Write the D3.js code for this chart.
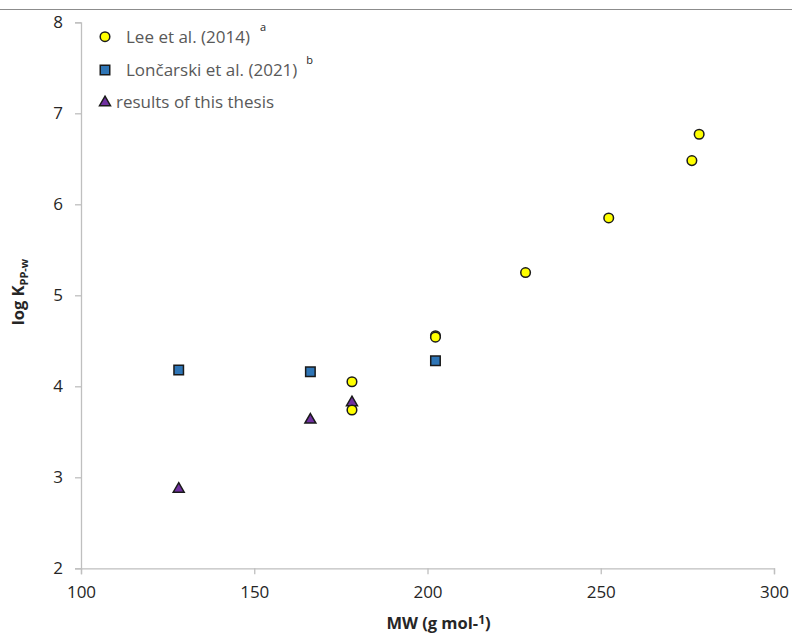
<!DOCTYPE html>
<html>
<head>
<meta charset="utf-8">
<script src="https://cdn.jsdelivr.net/npm/d3@7"></script>
<style>
  html, body { margin: 0; padding: 0; background: #fff; }
  svg { display: block; }
  text { font-family: "Open Sans", "Liberation Sans", sans-serif; }
</style>
</head>
<body>
<svg id="chart" width="792" height="637"></svg>
<script>
// Lee et al. (2014): molecular weight and log K(PP-w)
const leeMW = [178.2, 178.2, 202.3, 202.3, 228.3, 252.3, 276.3, 278.4];
const leeLogK = [4.05, 3.74, 4.555, 4.54, 5.25, 5.85, 6.48, 6.77];

// Lončarski et al. (2021)
const loncarskiMW = [128.2, 166.2, 202.3];
const loncarskiLogK = [4.18, 4.16, 4.28];

// Results of this thesis
const thesisMW = [128.2, 166.2, 178.2];
const thesisLogK = [2.88, 3.64, 3.83];

const xTicks = [100, 150, 200, 250, 300];
const yTicks = [2, 3, 4, 5, 6, 7, 8];

const svg = d3.select("#chart");
const x = d3.scaleLinear().domain([100, 300]).range([81, 774]);
const y = d3.scaleLinear().domain([2, 8]).range([568.3, 22.3]);

const axisColor = "#bfbfbf";
const tickText = "#262626";

// thin rule across the top
svg.append("line").attr("x1", 0).attr("x2", 792).attr("y1", 9.5).attr("y2", 9.5)
  .attr("stroke", "#8c8c8c").attr("stroke-width", 1.2);

// x axis
const gx = svg.append("g").attr("transform", `translate(0,${y(2)})`)
  .call(d3.axisBottom(x).tickValues(xTicks).tickSize(6).tickPadding(12).tickFormat(d3.format("d")));
// y axis
const gy = svg.append("g").attr("transform", `translate(${x(100)},0)`)
  .call(d3.axisLeft(y).tickValues(yTicks).tickSize(6).tickPadding(12).tickFormat(d3.format("d")));

[gx, gy].forEach(g => {
  g.select(".domain").attr("stroke", axisColor).attr("stroke-width", 1.3);
  g.selectAll(".tick line").attr("stroke", axisColor).attr("stroke-width", 1.3);
  g.selectAll(".tick text").attr("fill", tickText).attr("font-size", 17)
    .style("font-family", "'Open Sans', sans-serif");
});

// axis titles
const xTitle = svg.append("text").attr("x", x(200) + 11).attr("y", 629)
  .attr("text-anchor", "middle").attr("font-size", 16.5).attr("font-weight", "bold").attr("fill", "#262626");
xTitle.append("tspan").text("MW (g mol-");
xTitle.append("tspan").text("1").attr("font-size", 12).attr("dy", -5);
xTitle.append("tspan").text(")").attr("dy", 5);

const yTitle = svg.append("text").attr("transform", `translate(24,292) rotate(-90)`)
  .attr("text-anchor", "middle").attr("font-size", 16.5).attr("font-weight", "bold").attr("fill", "#262626");
yTitle.append("tspan").text("log K");
yTitle.append("tspan").text("PP-w").attr("font-size", 11).attr("dy", 4);

// markers
const symCircle = d3.symbol().type(d3.symbolCircle).size(Math.PI * 4.8 * 4.8);
const symSquare = d3.symbol().type(d3.symbolSquare).size(9.5 * 9.5);
const symTriangle = d3.symbol().type(d3.symbolTriangle).size(52);

const series = [
  { mw: loncarskiMW, k: loncarskiLogK, sym: symSquare, fill: "#2e75b6", dy: 0 },
  { mw: thesisMW, k: thesisLogK, sym: symTriangle, fill: "#7030a0", dy: 0.8 },
  { mw: leeMW, k: leeLogK, sym: symCircle, fill: "#ffff00", dy: 0 }
];

series.forEach(s => {
  svg.append("g").selectAll("path")
    .data(s.mw.map((m, i) => [m, s.k[i]]))
    .join("path")
    .attr("d", s.sym)
    .attr("transform", d => `translate(${x(d[0])},${y(d[1]) + s.dy})`)
    .attr("fill", s.fill)
    .attr("stroke", "#1a1a1a")
    .attr("stroke-width", 1.5);
});

// legend
const legend = svg.append("g");
const legendItems = [
  { sym: symCircle, fill: "#ffff00", label: "Lee et al. (2014)", sup: "a", cy: 36.7, tx: 126, supDx: 10 },
  { sym: symSquare, fill: "#2e75b6", label: "Lončarski et al. (2021)", sup: "b", cy: 70, tx: 126, supDx: 9 },
  { sym: symTriangle, fill: "#7030a0", label: "results of this thesis", sup: null, cy: 101.7, tx: 116, supDx: 0 }
];
legendItems.forEach(it => {
  legend.append("path").attr("d", it.sym)
    .attr("transform", `translate(105,${it.cy + (it.sym === symTriangle ? 0.8 : 0)})`)
    .attr("fill", it.fill).attr("stroke", "#1a1a1a").attr("stroke-width", 1.5);
  const t = legend.append("text").attr("x", it.tx).attr("y", it.cy + 6)
    .attr("font-size", 17).attr("fill", "#595959");
  t.append("tspan").text(it.label);
  if (it.sup) {
    t.append("tspan").text(it.sup).attr("font-size", 11).attr("dx", it.supDx).attr("dy", -12).attr("fill", "#262626");
  }
});
</script>
</body>
</html>
